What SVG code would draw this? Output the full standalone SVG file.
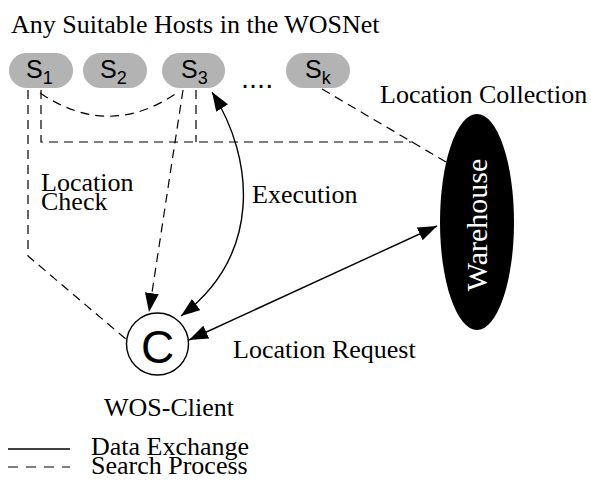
<svg xmlns="http://www.w3.org/2000/svg" width="591" height="481" viewBox="0 0 591 481">
<style>
.serif{font-family:"Liberation Serif","Times New Roman",serif;font-size:26px;fill:#000}
.sans{font-family:"Liberation Sans",Arial,sans-serif;fill:#000}
.host{fill:#b3b3b3;stroke:none}
.dash{fill:none;stroke:#000;stroke-width:1.2;stroke-dasharray:9,6}
.solid{fill:none;stroke:#000;stroke-width:1.4}
</style>
<defs>
<marker id="ah" markerWidth="20" markerHeight="14" refX="19" refY="7" orient="auto" markerUnits="userSpaceOnUse">
<path d="M0,0 L19,7 L0,14 Z" fill="#000"/>
</marker>
<marker id="ahs" markerWidth="20" markerHeight="14" refX="1" refY="7" orient="auto" markerUnits="userSpaceOnUse">
<path d="M20,0 L1,7 L20,14 Z" fill="#000"/>
</marker>
</defs>
<rect width="591" height="481" fill="#fff"/>
<text class="serif" x="11" y="33">Any Suitable Hosts in the WOSNet</text>
<g id="connectors">
<path class="dash" d="M28,90 V256 L127,340"/>
<path class="dash" d="M41,90 V142 H413"/>
<path class="dash" d="M196,90 V142"/>
<path class="dash" d="M40,93 Q110,140 178,92"/>
<path class="dash" d="M183,90 L149,312" marker-end="url(#ah)"/>
<path class="dash" d="M322,89 L446,162"/>
<path class="solid" d="M212,92 C255,160 262,255 181,316" marker-start="url(#ahs)" marker-end="url(#ah)"/>
<path class="solid" d="M189,340 L437,226" marker-start="url(#ahs)" marker-end="url(#ah)"/>
</g>
<g id="s1"><rect class="host" x="9" y="53" width="64" height="35" rx="17.5"/><text class="sans" x="26" y="78" font-size="25">S<tspan font-size="18" dy="6">1</tspan></text></g>
<g id="s2"><rect class="host" x="83" y="53" width="64" height="35" rx="17.5"/><text class="sans" x="100" y="78" font-size="25">S<tspan font-size="18" dy="6">2</tspan></text></g>
<g id="s3"><rect class="host" x="162" y="53" width="63" height="35" rx="17.5"/><text class="sans" x="181" y="78" font-size="25">S<tspan font-size="18" dy="6">3</tspan></text></g>
<text class="sans" x="241" y="88" font-size="29">....</text>
<g id="sk"><rect class="host" x="286" y="53" width="64" height="35" rx="17.5"/><text class="sans" x="305" y="78" font-size="25">S<tspan font-size="18" dy="6">k</tspan></text></g>
<g id="warehouse"><ellipse cx="477" cy="222" rx="37" ry="108" fill="#000"/><text transform="translate(487,225) rotate(-90)" text-anchor="middle" style="font-family:'Liberation Serif','Times New Roman',serif;font-size:30px;fill:#fff">Warehouse</text></g>
<g id="client"><circle cx="157.5" cy="344" r="31" fill="#fff" stroke="#000" stroke-width="1.4"/><text class="sans" x="157.5" y="363" text-anchor="middle" font-size="46">C</text>
<text class="serif" x="104" y="416">WOS-Client</text></g>
<text class="serif" x="380" y="103">Location Collection</text>
<text class="serif" x="41" y="191">Location</text>
<text class="serif" x="41" y="210">Check</text>
<text class="serif" x="252" y="203">Execution</text>
<text class="serif" x="233" y="358">Location Request</text>
<g id="legend">
<line class="solid" x1="8" y1="449" x2="70" y2="449"/>
<line class="dash" x1="8" y1="467" x2="70" y2="467" style="stroke-dasharray:10,8"/>
<text class="serif" x="91" y="455">Data Exchange</text>
<text class="serif" x="91" y="474">Search Process</text>
</g>
</svg>
